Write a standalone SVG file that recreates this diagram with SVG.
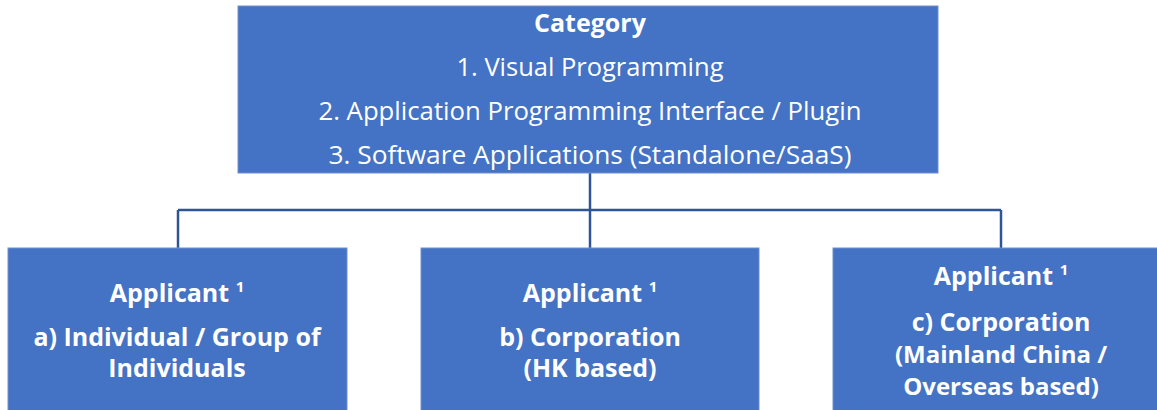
<svg xmlns="http://www.w3.org/2000/svg" width="1157" height="410" viewBox="0 0 1157 410">
<style>
.box{fill:#4472C4;stroke:#6F8FD0;stroke-width:1}
.t{font-family:"Open Sans","Liberation Sans",sans-serif;fill:#fff;text-anchor:middle;font-size:25px}
.s{font-size:24px}
.b{font-weight:bold}
.c{fill:none;stroke:#2F5597;stroke-width:2.5}
</style>
<rect width="1157" height="410" fill="#fff"/>
<g id="connectors">
<line class="c" x1="590" y1="173" x2="590" y2="248"/>
<line class="c" x1="178" y1="210" x2="1001" y2="210"/>
<line class="c" x1="178" y1="210" x2="178" y2="248"/>
<line class="c" x1="1001" y1="210" x2="1001" y2="248"/>
</g>
<g id="category">
<rect class="box" x="238" y="6" width="700" height="167"/>
<text class="t b" x="590" y="32">Category</text>
<text class="t" x="590" y="76" textLength="267" lengthAdjust="spacingAndGlyphs">1. Visual Programming</text>
<text class="t" x="590" y="120" textLength="543" lengthAdjust="spacingAndGlyphs">2. Application Programming Interface / Plugin</text>
<text class="t" x="590" y="164" textLength="523" lengthAdjust="spacingAndGlyphs">3. Software Applications (Standalone/SaaS)</text>
</g>
<g id="applicant-a">
<rect class="box" x="8" y="248" width="339" height="170"/>
<text class="t b" x="177" y="302">Applicant <tspan font-size="15" dy="-10">1</tspan></text>
<text class="t b" x="177" y="346">a) Individual / Group of</text>
<text class="t b" x="177" y="377">Individuals</text>
</g>
<g id="applicant-b">
<rect class="box" x="421" y="248" width="338" height="170"/>
<text class="t b" x="590" y="302">Applicant <tspan font-size="15" dy="-10">1</tspan></text>
<text class="t b" x="590" y="346">b) Corporation</text>
<text class="t b" x="590" y="377">(HK based)</text>
</g>
<g id="applicant-c">
<rect class="box" x="833" y="248" width="340" height="170"/>
<text class="t b" x="1001" y="285">Applicant <tspan font-size="15" dy="-10">1</tspan></text>
<text class="t b" x="1001" y="331">c) Corporation</text>
<text class="t b s" x="1001" y="363">(Mainland China /</text>
<text class="t b s" x="1001" y="395">Overseas based)</text>
</g>
</svg>
